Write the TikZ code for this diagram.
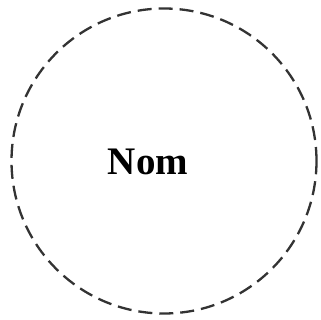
\documentclass[tikz,border=0pt]{standalone}
\usepackage{fontspec}
\setmainfont{Liberation Serif}
\usepackage{tikz}
\usetikzlibrary{positioning}

\begin{document}
\begin{tikzpicture}[
      x=1pt, y=1pt,
      bubble/.style={draw, circle, dash pattern=on 14pt off 7pt,
                     line width=2.3pt, draw=black!80,
                     minimum size=305pt, inner sep=0pt},
      nametext/.style={font=\bfseries\fontsize{39}{39}\selectfont,
                       anchor=base, inner sep=0pt}]
    \useasboundingbox (0,0) rectangle (321,320);
    \node[bubble] (entity) at (164,159) {};
    \node[nametext] (nom) at (148,145) {Nom};
  \end{tikzpicture}
\end{document}
